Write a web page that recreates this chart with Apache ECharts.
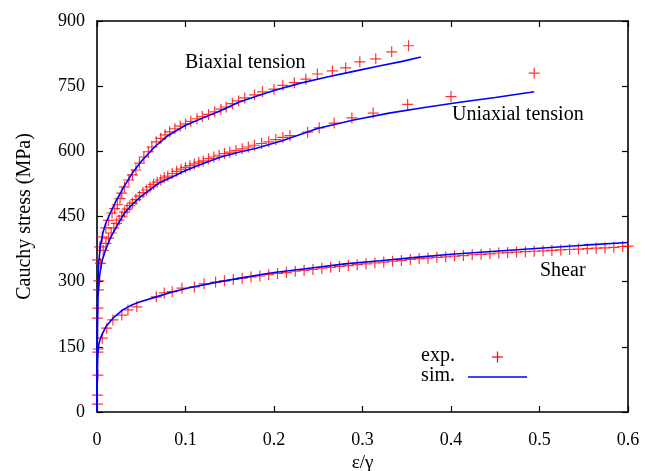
<!DOCTYPE html>
<html>
<head>
<meta charset="utf-8">
<script src="https://cdn.jsdelivr.net/npm/echarts@6/dist/echarts.min.js"></script>
<style>
  html, body { margin: 0; padding: 0; background: #fff; }
  #chart { width: 649px; height: 471px; }
</style>
</head>
<body>
<div id="chart"></div>
<script>
  // tick labels
  var xTicks = [0, 0.1, 0.2, 0.3, 0.4, 0.5, 0.6]
  var yTicks = [0, 150, 300, 450, 600, 750, 900]

  // simulation curves
  var biaxSimX = [0, 0.0005, 0.001, 0.002, 0.004, 0.007, 0.01, 0.015, 0.02, 0.03, 0.04, 0.05, 0.065, 0.08, 0.1, 0.12, 0.14, 0.16, 0.18, 0.2, 0.23, 0.26, 0.29, 0.32, 0.345, 0.366]
  var biaxSimY = [0, 250, 300, 345, 385, 415, 435, 458, 480, 517, 550, 577, 610, 636, 660, 677, 694, 713, 727, 740, 757, 771, 784, 797, 807, 817]

  var uniSimX = [0, 0.0005, 0.001, 0.003, 0.006, 0.01, 0.015, 0.02, 0.03, 0.04, 0.05, 0.07, 0.085, 0.1, 0.12, 0.14, 0.16, 0.18, 0.21, 0.25, 0.29, 0.33, 0.37, 0.41, 0.45, 0.494]
  var uniSimY = [0, 200, 260, 315, 350, 375, 400, 419, 455, 478, 497, 527, 541, 556, 572, 587, 598, 607, 625, 653, 672, 688, 701, 713, 724, 737]

  var shearSimX = [0, 0.0005, 0.001, 0.002, 0.004, 0.006, 0.01, 0.018, 0.029, 0.04, 0.048, 0.067, 0.085, 0.104, 0.136, 0.17, 0.2, 0.24, 0.28, 0.32, 0.36, 0.4, 0.45, 0.5, 0.55, 0.6]
  var shearSimY = [0, 100, 140, 155, 170, 180, 196, 216, 235, 247, 253, 265, 276, 286, 299, 311, 321, 331, 341, 348, 356, 363, 370, 377, 384, 390]

  // experimental points
  var biaxExpX = [0.0005, 0.003, 0.006, 0.010, 0.013, 0.017, 0.020, 0.023, 0.026, 0.028, 0.031, 0.036, 0.040, 0.044, 0.048, 0.053, 0.058, 0.062, 0.067, 0.072, 0.077, 0.082, 0.088, 0.094, 0.100, 0.106, 0.113, 0.119, 0.126, 0.133, 0.140, 0.146, 0.153, 0.160, 0.167, 0.178, 0.187, 0.200, 0.210, 0.223, 0.236, 0.249, 0.266, 0.281, 0.297, 0.315, 0.333, 0.352]
  var biaxExpY = [350, 380, 403, 424, 441, 458, 468, 477, 491, 504, 518, 534, 546, 557, 573, 587, 599, 610, 622, 630, 638, 645, 652, 658, 663, 669, 675, 680, 685, 691, 697, 702, 710, 716, 723, 730, 737, 743, 752, 758, 766, 778, 785, 792, 806, 813, 829, 843]

  var uniExpX = [0.0005, 0.001, 0.0015, 0.002, 0.004, 0.007, 0.010, 0.013, 0.016, 0.019, 0.022, 0.025, 0.028, 0.031, 0.034, 0.037, 0.040, 0.044, 0.048, 0.052, 0.056, 0.060, 0.064, 0.068, 0.072, 0.076, 0.080, 0.085, 0.090, 0.095, 0.100, 0.105, 0.110, 0.115, 0.120, 0.126, 0.132, 0.138, 0.144, 0.150, 0.157, 0.164, 0.171, 0.178, 0.186, 0.194, 0.202, 0.210, 0.218, 0.238, 0.251, 0.268, 0.288, 0.312, 0.351, 0.400, 0.494]
  var uniExpY = [216, 239, 281, 302, 342, 372, 388, 400, 412, 424, 434, 442, 451, 460, 467, 475, 481, 489, 497, 505, 511, 518, 524, 529, 534, 539, 543, 549, 554, 559, 563, 567, 571, 575, 578, 583, 587, 591, 595, 598, 602, 606, 610, 614, 618, 622, 627, 632, 636, 644, 654, 665, 677, 688, 708, 726, 780]

  var shearExpX = [0.0005, 0.0005, 0.001, 0.001, 0.0015, 0.006, 0.011, 0.018, 0.028, 0.035, 0.045, 0.067, 0.076, 0.085, 0.096, 0.110, 0.121, 0.134, 0.144, 0.154, 0.164, 0.174, 0.184, 0.194, 0.204, 0.214, 0.224, 0.234, 0.244, 0.254, 0.264, 0.274, 0.284, 0.294, 0.304, 0.314, 0.324, 0.334, 0.344, 0.354, 0.364, 0.374, 0.384, 0.394, 0.404, 0.414, 0.424, 0.434, 0.444, 0.454, 0.464, 0.474, 0.484, 0.494, 0.504, 0.514, 0.524, 0.534, 0.544, 0.554, 0.564, 0.574, 0.584, 0.594, 0.600]
  var shearExpY = [18, 39, 85, 138, 145, 170, 193, 212, 223, 235, 242, 265, 274, 277, 285, 288, 295, 299, 302, 305, 308, 311, 313, 316, 319, 321, 324, 326, 328, 331, 333, 335, 337, 339, 341, 343, 345, 347, 349, 351, 353, 354, 356, 357, 359, 360, 362, 363, 364, 366, 367, 368, 369, 370, 371, 372, 373, 374, 375, 376, 377, 378, 379, 381, 382]

  function pairs(xs, ys) {
    return xs.map(function (x, i) { return [x, ys[i]] })
  }

  var serif = 'Liberation Serif'
  var labelFont = '20px "Liberation Serif"'
  var plus = 'path://M5,0L5,10M0,5L10,5'

  var chart = echarts.init(document.getElementById('chart'))

  var expStyle = {
    type: 'scatter',
    symbol: plus,
    symbolSize: 11,
    itemStyle: { color: 'rgba(0,0,0,0)', borderColor: '#ff0000', borderWidth: 1.2 },
    silent: true,
    z: 3
  }
  var simStyle = {
    type: 'line',
    showSymbol: false,
    lineStyle: { color: '#0000ff', width: 1.6 },
    silent: true,
    z: 4
  }

  chart.setOption({
    animation: false,
    grid: { left: 97, right: 21, top: 21, bottom: 59, outerBoundsMode: 'none', containLabel: false },
    xAxis: [{
      type: 'value',
      min: 0,
      max: 0.6,
      interval: 0.1,
      name: 'ε/γ',
      nameLocation: 'middle',
      nameGap: 39,
      nameTextStyle: { fontFamily: serif, fontSize: 19, color: '#000' },
      axisLine: { onZero: false, lineStyle: { color: '#000', width: 1.6 } },
      axisTick: { inside: true, length: 6, lineStyle: { color: '#000', width: 1.2 } },
      axisLabel: { margin: 19, fontFamily: serif, fontSize: 18, color: '#000',
        formatter: function (v) { return xTicks.indexOf(+v.toFixed(1)) >= 0 ? String(+v.toFixed(1)) : '' } },
      splitLine: { show: false }
    }, {
      type: 'value',
      position: 'top',
      min: 0,
      max: 0.6,
      interval: 0.1,
      axisLine: { onZero: false, lineStyle: { color: '#000', width: 1.6 } },
      axisTick: { inside: true, length: 6, lineStyle: { color: '#000', width: 1.2 } },
      axisLabel: { show: false },
      splitLine: { show: false }
    }],
    yAxis: [{
      type: 'value',
      min: 0,
      max: 900,
      interval: 150,
      name: 'Cauchy stress (MPa)',
      nameLocation: 'middle',
      nameGap: 62,
      nameTextStyle: { fontFamily: serif, fontSize: 20, color: '#000' },
      axisLine: { onZero: false, lineStyle: { color: '#000', width: 1.6 } },
      axisTick: { inside: true, length: 6, lineStyle: { color: '#000', width: 1.2 } },
      axisLabel: { margin: 12, fontFamily: serif, fontSize: 18, color: '#000',
        formatter: function (v) { return yTicks.indexOf(v) >= 0 ? String(v) : '' } },
      splitLine: { show: false }
    }, {
      type: 'value',
      position: 'right',
      min: 0,
      max: 900,
      interval: 150,
      axisLine: { onZero: false, lineStyle: { color: '#000', width: 1.6 } },
      axisTick: { inside: true, length: 6, lineStyle: { color: '#000', width: 1.2 } },
      axisLabel: { show: false },
      splitLine: { show: false }
    }],
    graphic: [
      { type: 'text', left: 185, top: 53, style: { text: 'Biaxial tension', font: labelFont, fill: '#000' } },
      { type: 'text', left: 452, top: 105, style: { text: 'Uniaxial tension', font: labelFont, fill: '#000' } },
      { type: 'text', left: 540, top: 261, style: { text: 'Shear', font: labelFont, fill: '#000' } },
      // key
      { type: 'text', right: 194, top: 346, style: { text: 'exp.', font: labelFont, fill: '#000' } },
      { type: 'text', right: 194, top: 366, style: { text: 'sim.', font: labelFont, fill: '#000' } },
      { type: 'line', shape: { x1: 492, y1: 357, x2: 503, y2: 357 }, style: { stroke: '#ff0000', lineWidth: 1.2 } },
      { type: 'line', shape: { x1: 497.5, y1: 351.5, x2: 497.5, y2: 362.5 }, style: { stroke: '#ff0000', lineWidth: 1.2 } },
      { type: 'line', shape: { x1: 468, y1: 377, x2: 527, y2: 377 }, style: { stroke: '#0000ff', lineWidth: 1.6 } }
    ],
    series: [
      Object.assign({ name: 'biax exp', data: pairs(biaxExpX, biaxExpY) }, expStyle),
      Object.assign({ name: 'uni exp', data: pairs(uniExpX, uniExpY) }, expStyle),
      Object.assign({ name: 'shear exp', data: pairs(shearExpX, shearExpY) }, expStyle),
      Object.assign({ name: 'biax sim', data: pairs(biaxSimX, biaxSimY) }, simStyle),
      Object.assign({ name: 'uni sim', data: pairs(uniSimX, uniSimY) }, simStyle),
      Object.assign({ name: 'shear sim', data: pairs(shearSimX, shearSimY) }, simStyle)
    ]
  })
</script>
</body>
</html>
